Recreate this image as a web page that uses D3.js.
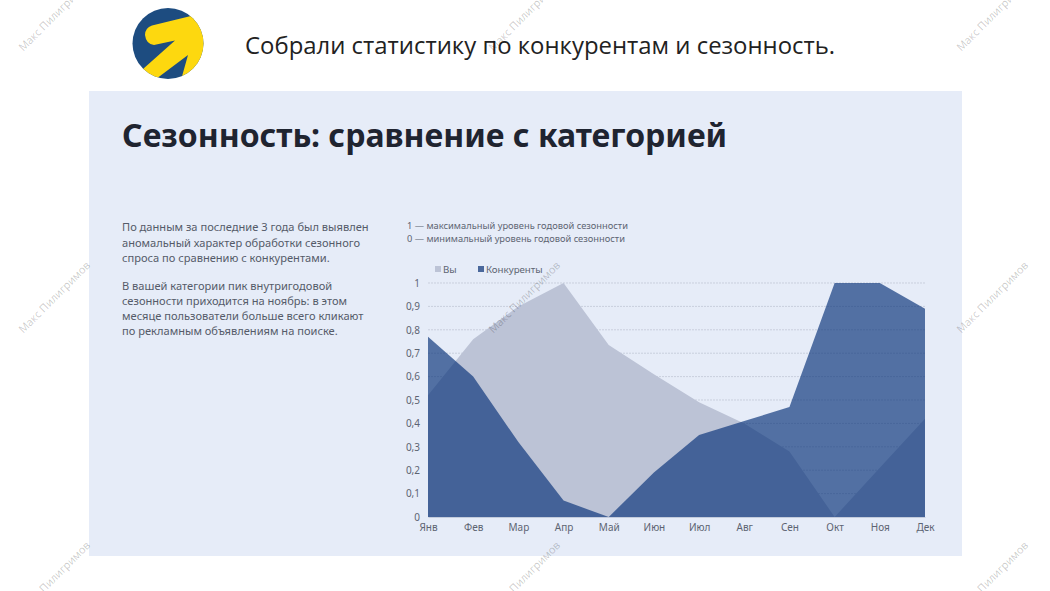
<!DOCTYPE html>
<html>
<head>
<meta charset="utf-8">
<script src="https://cdn.jsdelivr.net/npm/d3@7"></script>
<style>
  html, body { margin: 0; padding: 0; background: #fff; }
  svg { display: block; font-family: "Noto Sans", sans-serif; }
  .tick text { fill: #5d6472; font-size: 10px; font-family: "Noto Sans", sans-serif; }
  .body-text { fill: #555b69; font-size: 11.1px; }
  .note-text { fill: #5d6472; font-size: 9.3px; }
  .mark { font-family: "Open Sans", sans-serif; font-size: 10.8px; fill: #000; fill-opacity: 0.22; }
</style>
</head>
<body>
<div id="chart"></div>
<script>
// values
const months = ["Янв","Фев","Мар","Апр","Май","Июн","Июл","Авг","Сен","Окт","Ноя","Дек"];
const you = [0.52,0.76,0.90,1,0.735,0.61,0.49,0.40,0.28,0,0.21,0.42];
const rivals = [0.77,0.60,0.32,0.07,0,0.19,0.35,0.41,0.47,1,1,0.89];
const yTicks = [0,0.1,0.2,0.3,0.4,0.5,0.6,0.7,0.8,0.9,1];
const seriesNames = ["Вы","Конкуренты"];
const notes = ["1 — максимальный уровень годовой сезонности","0 — минимальный уровень годовой сезонности"];
const para1 = ["По данным за последние 3 года был выявлен","аномальный характер обработки сезонного","спроса по сравнению с конкурентами."];
const para2 = ["В вашей категории пик внутригодовой","сезонности приходится на ноябрь: в этом","месяце пользователи больше всего кликают","по рекламным объявлениям на поиске."];

const WIDTH = 1050, HEIGHT = 591;
const YOU_COLOR = "#bcc3d6", RIVAL_COLOR = "#093379";

const svg = d3.select("#chart").append("svg")
    .attr("width", WIDTH)
    .attr("height", HEIGHT);

// slide background
svg.append("rect")
    .attr("x", 89).attr("y", 91)
    .attr("width", 873).attr("height", 465)
    .attr("fill", "#e6ecf8");

// logo
const logo = svg.append("g");
svg.append("clipPath").attr("id", "logoClip")
  .append("circle").attr("cx", 168).attr("cy", 43.5).attr("r", 35.5);
logo.append("circle").attr("cx", 168).attr("cy", 43.5).attr("r", 35.5).attr("fill", "#1d4c80");
logo.append("path")
    .attr("clip-path", "url(#logoClip)")
    .attr("fill", "#fdd80f")
    .attr("d", "M195 15 L152 25.5 Q145 28 145 35 Q146 44 154 45 L175 40.5 L143 69 L152 82 L188 55 L181 80 L215 80 L215 15 Z");

svg.append("text")
    .attr("x", 245).attr("y", 53.5)
    .attr("font-family", "'Open Sans', sans-serif")
    .attr("font-size", 23.9)
    .attr("fill", "#222")
    .text("Собрали статистику по конкурентам и сезонность.");

svg.append("text")
    .attr("x", 122).attr("y", 147)
    .attr("font-family", "'Noto Sans', sans-serif")
    .attr("font-size", 32)
    .attr("font-weight", 700)
    .attr("fill", "#1f2430")
    .text("Сезонность: сравнение с категорией");

// left text block
svg.selectAll(".p1").data(para1).join("text")
    .attr("class", "body-text p1")
    .attr("x", 122)
    .attr("y", (d, i) => 231 + i * 15.5)
    .text(d => d);
svg.selectAll(".p2").data(para2).join("text")
    .attr("class", "body-text p2")
    .attr("x", 122)
    .attr("y", (d, i) => 290 + i * 15)
    .text(d => d);

svg.selectAll(".note").data(notes).join("text")
    .attr("class", "note-text note")
    .attr("x", 407)
    .attr("y", (d, i) => 229 + i * 13)
    .text(d => d);

// scales
const xScale = d3.scalePoint().domain(months).range([428, 925]);
const yScale = d3.scaleLinear().domain([0, 1]).range([517, 283]);

// grid
svg.append("g").selectAll("line").data(yTicks.slice(1)).join("line")
    .attr("x1", 428).attr("x2", 925)
    .attr("y1", d => yScale(d)).attr("y2", d => yScale(d))
    .attr("stroke", "#c9cfdd")
    .attr("stroke-dasharray", "2 1")
    .attr("stroke-width", 1);

// areas
const area = d3.area()
    .x((d, i) => xScale(months[i]))
    .y0(yScale(0))
    .y1(d => yScale(d));

svg.append("path").datum(you).attr("d", area).attr("fill", YOU_COLOR);
svg.append("path").datum(rivals).attr("d", area).attr("fill", RIVAL_COLOR).attr("fill-opacity", 0.67);

// axes
const xAxis = svg.append("g")
    .attr("transform", "translate(0,517)")
    .call(d3.axisBottom(xScale).tickSize(0).tickPadding(7));
xAxis.select(".domain").attr("stroke", "#c3cbdc");

const yAxis = svg.append("g")
    .attr("transform", "translate(428,0)")
    .call(d3.axisLeft(yScale).tickValues(yTicks).tickSize(0).tickPadding(8)
        .tickFormat(d => String(d).replace(".", ",")));
yAxis.select(".domain").remove();

// legend
const legendX = [435, 478];
const legend = svg.selectAll(".legend").data(seriesNames).join("g")
    .attr("class", "legend")
    .attr("transform", (d, i) => "translate(" + legendX[i] + ",265)");
legend.append("rect")
    .attr("width", 6).attr("height", 6)
    .attr("y", 1)
    .attr("fill", (d, i) => i === 0 ? YOU_COLOR : "#4a689c");
legend.append("text")
    .attr("x", 8).attr("y", 8)
    .attr("font-size", 9.7)
    .attr("fill", "#5d6472")
    .text(d => d);

// watermarks
const markX = [57, 527, 995];
const markY = [18, 300, 580];
svg.append("g").selectAll("text")
  .data(d3.cross(markX, markY)).join("text")
    .attr("class", "mark")
    .attr("text-anchor", "middle")
    .attr("transform", d => "translate(" + d[0] + "," + d[1] + ") rotate(-45)")
    .text("Макс Пилигримов");
</script>
</body>
</html>
